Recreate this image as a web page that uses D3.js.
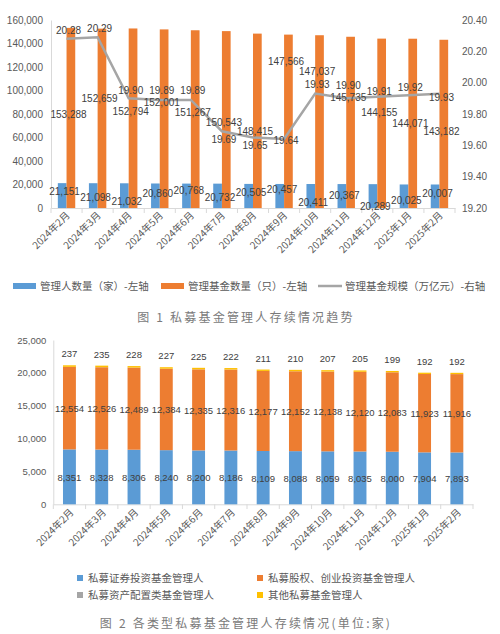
<!DOCTYPE html>
<html>
<head>
<meta charset="utf-8">
<script src="https://cdn.jsdelivr.net/npm/d3@7"></script>
<style>
  body { margin: 0; background: #fff; }
  text { font-family: "Liberation Sans", "Noto Sans CJK SC", sans-serif; }
  .cjk { font-family: "Noto Sans CJK SC", sans-serif; }
</style>
</head>
<body>
<div id="chart"></div>
<script>
// months on both charts
var months = ["2024年2月", "2024年3月", "2024年4月", "2024年5月", "2024年6月", "2024年7月",
              "2024年8月", "2024年9月", "2024年10月", "2024年11月", "2024年12月", "2025年1月", "2025年2月"];

// figure 1
var managers = [21151, 21098, 21032, 20860, 20768, 20732, 20505, 20457, 20411, 20367, 20289, 20025, 20007];
var funds    = [153288, 152659, 152794, 152001, 151267, 150543, 148415, 147566, 147037, 145735, 144155, 144071, 143182];
var fundScale = [20.28, 20.29, 19.90, 19.89, 19.89, 19.69, 19.65, 19.64, 19.93, 19.90, 19.91, 19.92, 19.93];
var leftTicks  = [0, 20000, 40000, 60000, 80000, 100000, 120000, 140000, 160000];
var rightTicks = [19.2, 19.4, 19.6, 19.8, 20.0, 20.2, 20.4];

// figure 2 (stacked)
var secMgr   = [8351, 8328, 8306, 8240, 8200, 8186, 8109, 8088, 8059, 8035, 8000, 7904, 7893];
var peMgr    = [12554, 12526, 12489, 12384, 12335, 12316, 12177, 12152, 12138, 12120, 12083, 11923, 11916];
var assetMgr = [9, 9, 9, 9, 8, 8, 8, 7, 7, 7, 7, 6, 6];
var otherMgr = [237, 235, 228, 227, 225, 222, 211, 210, 207, 205, 199, 192, 192];
var stackTicks = [0, 5000, 10000, 15000, 20000, 25000];

// figure 1 labels were moved by hand in the original, these are the nudges (px)
var mgrLabelDy   = [-4, 2, 6, -2, -5, 2, -3, -6, 6, -1, 10, 4, -3];
var fundLabelDy  = [-3, -20, -7, -16, -7, 3, 11, -60, -50, -25, -11, 0, 8];
var scaleLabelDy = [-8, -9, -8, -9, -9, 8, 8, 1, -9, -13, -5, -8, 4];

var blue = "#5b9bd5", orange = "#ed7d31", gray = "#a5a5a5", yellow = "#ffc000";
var txt = "#595959", lbl = "#404040", axisCol = "#d9d9d9";

var svg = d3.select("#chart").append("svg")
    .attr("width", 500)
    .attr("height", 634);

// ---------- figure 1 ----------
var x1 = d3.scaleBand().domain(months).range([51, 455]).padding(0);
var sub = d3.scaleBand().domain(["mgr", "fund"])
    .range([x1.bandwidth() * 0.22, x1.bandwidth() * 0.78]);
var yL = d3.scaleLinear().domain([0, 160000]).range([208, 20]);
var yR = d3.scaleLinear().domain([19.2, 20.4]).range([208, 20]);

var g1 = svg.append("g");

// left axis
var axL = g1.append("g")
    .attr("transform", "translate(51,0)")
    .call(d3.axisLeft(yL).tickValues(leftTicks).tickFormat(d3.format(",")).tickSize(0).tickPadding(8));
axL.select(".domain").attr("stroke", axisCol);
axL.selectAll("text").attr("fill", txt).style("font-size", "10px");

// right axis
var axR = g1.append("g")
    .attr("transform", "translate(455,0)")
    .call(d3.axisRight(yR).tickValues(rightTicks).tickFormat(d3.format(".2f")).tickSize(0).tickPadding(7));
axR.select(".domain").remove();
axR.selectAll("text").attr("fill", txt).style("font-size", "10px");

// bottom axis with ticks between categories
var axB = g1.append("g")
    .attr("transform", "translate(0,208)")
    .call(d3.axisBottom(x1).tickSize(0).tickFormat(""));
axB.select(".domain").attr("stroke", axisCol);
g1.selectAll(".sep1")
    .data(d3.range(months.length + 1))
    .enter().append("line")
    .attr("x1", function(i) { return x1.range()[0] + i * x1.step(); })
    .attr("x2", function(i) { return x1.range()[0] + i * x1.step(); })
    .attr("y1", 208).attr("y2", 213)
    .attr("stroke", axisCol);

g1.selectAll(".xl1")
    .data(months)
    .enter().append("text")
    .attr("class", "cjk")
    .attr("transform", function(d) {
      return "translate(" + (x1(d) + x1.bandwidth() / 2 + 4) + ",216) rotate(-45)";
    })
    .attr("text-anchor", "end")
    .attr("fill", txt)
    .style("font-size", "10px")
    .text(function(d) { return d; });

// bars
g1.selectAll(".mgr")
    .data(managers)
    .enter().append("rect")
    .attr("x", function(d, i) { return x1(months[i]) + sub("mgr"); })
    .attr("y", function(d) { return yL(d); })
    .attr("width", sub.bandwidth())
    .attr("height", function(d) { return yL(0) - yL(d); })
    .attr("fill", blue);

g1.selectAll(".fund")
    .data(funds)
    .enter().append("rect")
    .attr("x", function(d, i) { return x1(months[i]) + sub("fund"); })
    .attr("y", function(d) { return yL(d); })
    .attr("width", sub.bandwidth())
    .attr("height", function(d) { return yL(0) - yL(d); })
    .attr("fill", orange);

// line
var line = d3.line()
    .x(function(d, i) { return x1(months[i]) + x1.bandwidth() / 2; })
    .y(function(d) { return yR(d); });

g1.append("path")
    .datum(fundScale)
    .attr("fill", "none")
    .attr("stroke", gray)
    .attr("stroke-width", 2.5)
    .attr("d", line);

// labels
var fmt = d3.format(",");
g1.selectAll(".mgrL")
    .data(managers)
    .enter().append("text")
    .attr("x", function(d, i) { return x1(months[i]) + x1.bandwidth() / 2 - 2; })
    .attr("y", function(d, i) { return (yL(d) + yL(0)) / 2 + 3.5 + mgrLabelDy[i]; })
    .attr("text-anchor", "middle")
    .attr("fill", lbl)
    .style("font-size", "10px")
    .text(function(d) { return fmt(d); });

g1.selectAll(".fundL")
    .data(funds)
    .enter().append("text")
    .attr("x", function(d, i) { return x1(months[i]) + x1.bandwidth() / 2 + 2; })
    .attr("y", function(d, i) { return (yL(d) + yL(0)) / 2 + 3.5 + fundLabelDy[i]; })
    .attr("text-anchor", "middle")
    .attr("fill", lbl)
    .style("font-size", "10px")
    .text(function(d) { return fmt(d); });

g1.selectAll(".scaleL")
    .data(fundScale)
    .enter().append("text")
    .attr("x", function(d, i) { return x1(months[i]) + x1.bandwidth() / 2 + 2; })
    .attr("y", function(d, i) { return yR(d) + 3.5 + scaleLabelDy[i]; })
    .attr("text-anchor", "middle")
    .attr("fill", lbl)
    .style("font-size", "10px")
    .text(function(d) { return d.toFixed(2); });

// legend 1
var leg1 = [
  {name: "管理人数量（家）-左轴", color: blue, type: "rect", x: 13},
  {name: "管理基金数量（只）-左轴", color: orange, type: "rect", x: 161},
  {name: "管理基金规模（万亿元）-右轴", color: gray, type: "line", x: 318}
];
var lg1 = g1.selectAll(".leg1").data(leg1).enter().append("g")
    .attr("transform", function(d) { return "translate(" + d.x + ",286)"; });
lg1.filter(function(d) { return d.type == "rect"; }).append("rect")
    .attr("x", 0).attr("y", -3).attr("width", 23).attr("height", 6)
    .attr("fill", function(d) { return d.color; });
lg1.filter(function(d) { return d.type == "line"; }).append("line")
    .attr("x1", 0).attr("x2", 24).attr("y1", 0).attr("y2", 0)
    .attr("stroke", function(d) { return d.color; }).attr("stroke-width", 2.5);
lg1.append("text")
    .attr("class", "cjk")
    .attr("x", 27).attr("y", 4)
    .attr("fill", txt)
    .style("font-size", "10.5px")
    .text(function(d) { return d.name; });

svg.append("text")
    .attr("class", "cjk")
    .attr("x", 246).attr("y", 322)
    .attr("text-anchor", "middle")
    .attr("fill", "#7a7a7a")
    .style("font-size", "12px")
    .style("letter-spacing", "2.2px")
    .text("图 1  私募基金管理人存续情况趋势");

// ---------- figure 2 ----------
var x2 = d3.scaleBand().domain(months).range([53.3, 473]).paddingInner(0.6).paddingOuter(0.3);
var y2 = d3.scaleLinear().domain([0, 25000]).range([504.3, 340]);

var g2 = svg.append("g");

var axL2 = g2.append("g")
    .attr("transform", "translate(53.3,0)")
    .call(d3.axisLeft(y2).tickValues(stackTicks).tickFormat(d3.format(",")).tickSize(0).tickPadding(7));
axL2.select(".domain").attr("stroke", axisCol);
axL2.selectAll("text").attr("fill", txt).style("font-size", "9.5px");

var axB2 = g2.append("g")
    .attr("transform", "translate(0,504.3)")
    .call(d3.axisBottom(x2).tickSize(0).tickFormat(""));
axB2.select(".domain").attr("stroke", axisCol);
var step2 = x2.step();
g2.selectAll(".sep2")
    .data(d3.range(months.length + 1))
    .enter().append("line")
    .attr("x1", function(i) { return 53.3 + i * step2; })
    .attr("x2", function(i) { return 53.3 + i * step2; })
    .attr("y1", 504.3).attr("y2", 509)
    .attr("stroke", axisCol);

g2.selectAll(".xl2")
    .data(months)
    .enter().append("text")
    .attr("class", "cjk")
    .attr("transform", function(d) {
      return "translate(" + (x2(d) + x2.bandwidth() / 2 + 5) + ",513) rotate(-45)";
    })
    .attr("text-anchor", "end")
    .attr("fill", txt)
    .style("font-size", "10px")
    .text(function(d) { return d; });

var table = months.map(function(m, i) {
  return {month: m, sec: secMgr[i], pe: peMgr[i], asset: assetMgr[i], other: otherMgr[i]};
});
var keys = ["sec", "pe", "asset", "other"];
var colors = {sec: blue, pe: orange, asset: gray, other: yellow};
var stacked = d3.stack().keys(keys)(table);

g2.selectAll(".layer")
    .data(stacked)
    .enter().append("g")
    .attr("fill", function(d) { return colors[d.key]; })
    .selectAll("rect")
    .data(function(d) { return d; })
    .enter().append("rect")
    .attr("x", function(d) { return x2(d.data.month); })
    .attr("y", function(d) { return y2(d[1]); })
    .attr("width", x2.bandwidth())
    .attr("height", function(d) { return y2(d[0]) - y2(d[1]); });

// labels: centered for sec and pe, above for other
stacked.forEach(function(layer) {
  if (layer.key == "asset") return;
  g2.selectAll(".lb-" + layer.key)
    .data(layer)
    .enter().append("text")
    .attr("x", function(d) { return x2(d.data.month) + x2.bandwidth() / 2; })
    .attr("y", function(d) {
      if (layer.key == "other") return y2(d[1]) - 8;
      return (y2(d[0]) + y2(d[1])) / 2 + 4;
    })
    .attr("text-anchor", "middle")
    .attr("fill", lbl)
    .style("font-size", "9.5px")
    .text(function(d) { return fmt(d.data[layer.key]); });
});

// legend 2
var leg2 = [
  {name: "私募证券投资基金管理人", color: blue, x: 77, y: 578},
  {name: "私募股权、创业投资基金管理人", color: orange, x: 257, y: 578},
  {name: "私募资产配置类基金管理人", color: gray, x: 77, y: 595},
  {name: "其他私募基金管理人", color: yellow, x: 257, y: 595}
];
var lg2 = g2.selectAll(".leg2").data(leg2).enter().append("g")
    .attr("transform", function(d) { return "translate(" + d.x + "," + d.y + ")"; });
lg2.append("rect")
    .attr("x", 0).attr("y", -3).attr("width", 6).attr("height", 6)
    .attr("fill", function(d) { return d.color; });
lg2.append("text")
    .attr("class", "cjk")
    .attr("x", 11).attr("y", 4)
    .attr("fill", txt)
    .style("font-size", "10.5px")
    .text(function(d) { return d.name; });

svg.append("text")
    .attr("class", "cjk")
    .attr("x", 246).attr("y", 628)
    .attr("text-anchor", "middle")
    .attr("fill", "#7a7a7a")
    .style("font-size", "12px")
    .style("letter-spacing", "2.2px")
    .text("图 2  各类型私募基金管理人存续情况(单位:家)");
</script>
</body>
</html>
